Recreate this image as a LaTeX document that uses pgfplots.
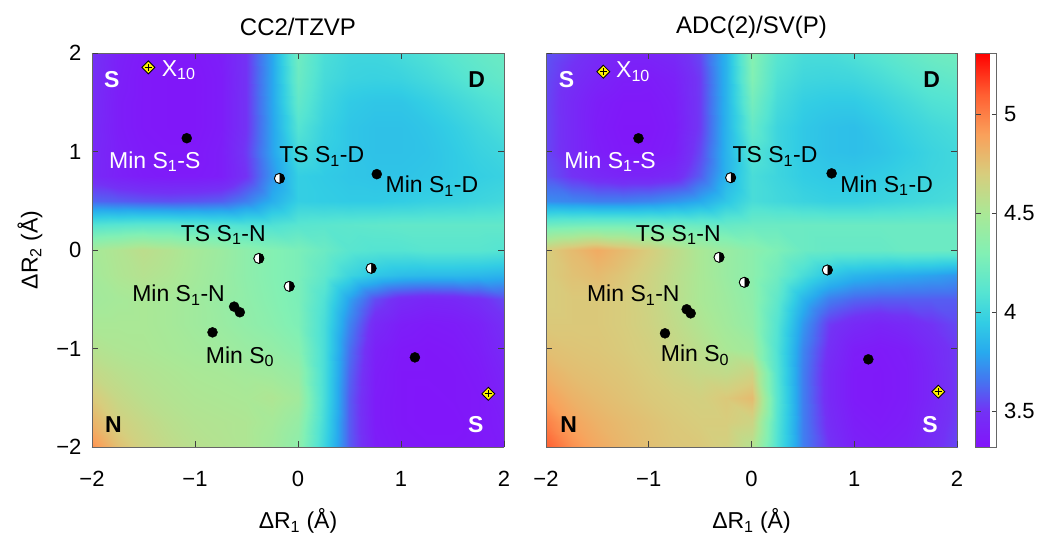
\documentclass[border=0pt]{standalone}
\usepackage{fontspec}
\setmainfont{Liberation Sans}
\usepackage{pgfplots}
\pgfplotsset{compat=1.18}
\usetikzlibrary{plotmarks}
\newcommand\fs{\fontsize{22}{26}\selectfont}
\newcommand\fa{\fontsize{23}{27}\selectfont}
\newcommand\ft{\fontsize{24}{28}\selectfont}
\newcommand\fl{\fontsize{23}{27}\selectfont}
\pgfplotsset{
  colormap={ref}{rgb255(0pt)=(130,20,250) rgb255(18pt)=(115,50,245) rgb255(33pt)=(70,115,240) rgb255(48pt)=(40,170,238) rgb255(63pt)=(50,205,228) rgb255(78pt)=(85,228,210) rgb255(98pt)=(130,240,180) rgb255(118pt)=(170,232,150) rgb255(138pt)=(215,205,125) rgb255(158pt)=(250,160,90) rgb255(178pt)=(255,95,50) rgb255(199pt)=(255,0,0)},
  hm/.style={
    view={0}{90}, scale only axis, width=#1, height=394pt,
    xmin=-2, xmax=2, ymin=-2, ymax=2,
    xtick={-2,-1,0,1,2}, ytick={-2,-1,0,1,2},
    xticklabels={−2,−1,0,1,2},
    colormap name=ref, point meta min=3.32, point meta max=5.31,
    axis on top, tick align=inside, major tick length=6pt,
    axis line style={draw=black!60, line width=0.8pt},
    major tick style={draw=black!75, line width=0.7pt},
    tick label style={font=\fs},
    xticklabel style={yshift=-21pt},
    yticklabel style={xshift=-7pt},
    xlabel={ΔR\textsubscript{1} (Å)},
    every axis x label/.style={at={([yshift=-74pt]axis description cs:0.5,0)}, anchor=center, font=\fa},
    title style={at={([yshift=20pt]axis description cs:0.5,1)}, anchor=center, font=\ft},
    clip=false,
  },
  dots/.style={only marks, mark=*, mark size=5pt, black},
  halfw/.style={only marks, mark=*, mark size=5pt, mark options={fill=white, draw=black, line width=0.8pt}},
  halfb/.style={only marks, mark=halfcircle*, mark size=5pt, mark options={rotate=-90, fill=black, draw=black, line width=0.8pt}},
  dia/.style={only marks, mark=square*, mark size=4.6pt, mark options={rotate=45, fill=yellow, draw=black, line width=0.8pt}},
  cross/.style={only marks, mark=+, mark size=3.6pt, mark options={draw=black, line width=1.1pt}},
}
\begin{document}
\begin{tikzpicture}
\useasboundingbox (-92pt,-95pt) rectangle (947pt,447pt);
% ---------------- left panel ----------------
\begin{axis}[hm=412pt, at={(0pt,0pt)}, anchor=south west,
  title={CC2/TZVP},
  ylabel={ΔR\textsubscript{2} (Å)},
  every axis y label/.style={at={([xshift=-62pt]axis description cs:0,0.5)}, anchor=center, rotate=90, font=\fa},
  yticklabels={−2,−1,0,1,2}]
\addplot3[surf, shader=interp, mesh/cols=17] table[row sep=\\] {
x y z\\
-2 -2 4.95\\ -1.75 -2 4.76\\ -1.5 -2 4.66\\ -1.25 -2 4.6\\ -1 -2 4.56\\ -0.75 -2 4.54\\ -0.5 -2 4.52\\ -0.25 -2 4.46\\ 0 -2 4.36\\ 0.25 -2 4.0\\ 0.5 -2 3.6\\ 0.75 -2 3.38\\ 1 -2 3.35\\ 1.25 -2 3.34\\ 1.5 -2 3.34\\ 1.75 -2 3.35\\ 2 -2 3.37\\
-2 -1.75 4.82\\ -1.75 -1.75 4.68\\ -1.5 -1.75 4.62\\ -1.25 -1.75 4.57\\ -1 -1.75 4.54\\ -0.75 -1.75 4.53\\ -0.5 -1.75 4.52\\ -0.25 -1.75 4.48\\ 0 -1.75 4.4\\ 0.25 -1.75 4.03\\ 0.5 -1.75 3.6\\ 0.75 -1.75 3.37\\ 1 -1.75 3.34\\ 1.25 -1.75 3.33\\ 1.5 -1.75 3.33\\ 1.75 -1.75 3.35\\ 2 -1.75 3.38\\
-2 -1.5 4.72\\ -1.75 -1.5 4.62\\ -1.5 -1.5 4.57\\ -1.25 -1.5 4.54\\ -1 -1.5 4.52\\ -0.75 -1.5 4.51\\ -0.5 -1.5 4.5\\ -0.25 -1.5 4.52\\ 0 -1.5 4.46\\ 0.25 -1.5 4.05\\ 0.5 -1.5 3.6\\ 0.75 -1.5 3.37\\ 1 -1.5 3.34\\ 1.25 -1.5 3.33\\ 1.5 -1.5 3.34\\ 1.75 -1.5 3.35\\ 2 -1.5 3.4\\
-2 -1.25 4.62\\ -1.75 -1.25 4.57\\ -1.5 -1.25 4.54\\ -1.25 -1.25 4.52\\ -1 -1.25 4.5\\ -0.75 -1.25 4.49\\ -0.5 -1.25 4.47\\ -0.25 -1.25 4.45\\ 0 -1.25 4.4\\ 0.25 -1.25 4.05\\ 0.5 -1.25 3.62\\ 0.75 -1.25 3.38\\ 1 -1.25 3.34\\ 1.25 -1.25 3.34\\ 1.5 -1.25 3.34\\ 1.75 -1.25 3.36\\ 2 -1.25 3.42\\
-2 -1 4.55\\ -1.75 -1 4.52\\ -1.5 -1 4.51\\ -1.25 -1 4.49\\ -1 -1 4.47\\ -0.75 -1 4.45\\ -0.5 -1 4.42\\ -0.25 -1 4.39\\ 0 -1 4.33\\ 0.25 -1 4.05\\ 0.5 -1 3.65\\ 0.75 -1 3.4\\ 1 -1 3.35\\ 1.25 -1 3.34\\ 1.5 -1 3.35\\ 1.75 -1 3.38\\ 2 -1 3.45\\
-2 -0.75 4.5\\ -1.75 -0.75 4.5\\ -1.5 -0.75 4.5\\ -1.25 -0.75 4.48\\ -1 -0.75 4.45\\ -0.75 -0.75 4.42\\ -0.5 -0.75 4.38\\ -0.25 -0.75 4.34\\ 0 -0.75 4.28\\ 0.25 -0.75 4.05\\ 0.5 -0.75 3.7\\ 0.75 -0.75 3.45\\ 1 -0.75 3.38\\ 1.25 -0.75 3.36\\ 1.5 -0.75 3.37\\ 1.75 -0.75 3.4\\ 2 -0.75 3.48\\
-2 -0.5 4.46\\ -1.75 -0.5 4.48\\ -1.5 -0.5 4.5\\ -1.25 -0.5 4.48\\ -1 -0.5 4.45\\ -0.75 -0.5 4.41\\ -0.5 -0.5 4.37\\ -0.25 -0.5 4.32\\ 0 -0.5 4.27\\ 0.25 -0.5 4.08\\ 0.5 -0.5 3.78\\ 0.75 -0.5 3.56\\ 1 -0.5 3.46\\ 1.25 -0.5 3.43\\ 1.5 -0.5 3.44\\ 1.75 -0.5 3.48\\ 2 -0.5 3.55\\
-2 -0.25 4.47\\ -1.75 -0.25 4.52\\ -1.5 -0.25 4.55\\ -1.25 -0.25 4.52\\ -1 -0.25 4.47\\ -0.75 -0.25 4.42\\ -0.5 -0.25 4.36\\ -0.25 -0.25 4.31\\ 0 -0.25 4.27\\ 0.25 -0.25 4.15\\ 0.5 -0.25 4.0\\ 0.75 -0.25 3.92\\ 1 -0.25 3.88\\ 1.25 -0.25 3.87\\ 1.5 -0.25 3.87\\ 1.75 -0.25 3.86\\ 2 -0.25 3.84\\
-2 0 4.48\\ -1.75 0 4.53\\ -1.5 0 4.58\\ -1.25 0 4.54\\ -1 0 4.48\\ -0.75 0 4.43\\ -0.5 0 4.36\\ -0.25 0 4.31\\ 0 0 4.27\\ 0.25 0 4.2\\ 0.5 0 4.12\\ 0.75 0 4.1\\ 1 0 4.1\\ 1.25 0 4.12\\ 1.5 0 4.12\\ 1.75 0 4.12\\ 2 0 4.1\\
-2 0.25 4.1\\ -1.75 0.25 4.12\\ -1.5 0.25 4.14\\ -1.25 0.25 4.14\\ -1 0.25 4.12\\ -0.75 0.25 4.1\\ -0.5 0.25 4.08\\ -0.25 0.25 4.08\\ 0 0.25 4.12\\ 0.25 0.25 4.13\\ 0.5 0.25 4.14\\ 0.75 0.25 4.15\\ 1 0.25 4.16\\ 1.25 0.25 4.16\\ 1.5 0.25 4.16\\ 1.75 0.25 4.16\\ 2 0.25 4.16\\
-2 0.5 3.62\\ -1.75 0.5 3.6\\ -1.5 0.5 3.58\\ -1.25 0.5 3.57\\ -1 0.5 3.58\\ -0.75 0.5 3.6\\ -0.5 0.5 3.68\\ -0.25 0.5 3.82\\ 0 0.5 3.96\\ 0.25 0.5 3.95\\ 0.5 0.5 3.94\\ 0.75 0.5 3.94\\ 1 0.5 3.95\\ 1.25 0.5 3.97\\ 1.5 0.5 3.98\\ 1.75 0.5 4.0\\ 2 0.5 4.02\\
-2 0.75 3.45\\ -1.75 0.75 3.4\\ -1.5 0.75 3.37\\ -1.25 0.75 3.36\\ -1 0.75 3.36\\ -0.75 0.75 3.38\\ -0.5 0.75 3.5\\ -0.25 0.75 3.74\\ 0 0.75 3.96\\ 0.25 0.75 3.94\\ 0.5 0.75 3.92\\ 0.75 0.75 3.91\\ 1 0.75 3.91\\ 1.25 0.75 3.92\\ 1.5 0.75 3.94\\ 1.75 0.75 3.96\\ 2 0.75 3.98\\
-2 1 3.45\\ -1.75 1 3.39\\ -1.5 1 3.36\\ -1.25 1 3.35\\ -1 1 3.35\\ -0.75 1 3.38\\ -0.5 1 3.52\\ -0.25 1 3.78\\ 0 1 4.04\\ 0.25 1 3.96\\ 0.5 1 3.92\\ 0.75 1 3.9\\ 1 1 3.9\\ 1.25 1 3.91\\ 1.5 1 3.94\\ 1.75 1 3.98\\ 2 1 4.01\\
-2 1.25 3.46\\ -1.75 1.25 3.38\\ -1.5 1.25 3.35\\ -1.25 1.25 3.34\\ -1 1.25 3.34\\ -0.75 1.25 3.37\\ -0.5 1.25 3.5\\ -0.25 1.25 3.78\\ 0 1.25 4.1\\ 0.25 1.25 3.98\\ 0.5 1.25 3.92\\ 0.75 1.25 3.9\\ 1 1.25 3.9\\ 1.25 1.25 3.92\\ 1.5 1.25 3.96\\ 1.75 1.25 4.01\\ 2 1.25 4.06\\
-2 1.5 3.47\\ -1.75 1.5 3.38\\ -1.5 1.5 3.35\\ -1.25 1.5 3.34\\ -1 1.5 3.34\\ -0.75 1.5 3.37\\ -0.5 1.5 3.5\\ -0.25 1.5 3.79\\ 0 1.5 4.16\\ 0.25 1.5 4.01\\ 0.5 1.5 3.94\\ 0.75 1.5 3.92\\ 1 1.5 3.92\\ 1.25 1.5 3.96\\ 1.5 1.5 4.01\\ 1.75 1.5 4.06\\ 2 1.5 4.1\\
-2 1.75 3.48\\ -1.75 1.75 3.39\\ -1.5 1.75 3.35\\ -1.25 1.75 3.34\\ -1 1.75 3.34\\ -0.75 1.75 3.37\\ -0.5 1.75 3.5\\ -0.25 1.75 3.79\\ 0 1.75 4.2\\ 0.25 1.75 4.04\\ 0.5 1.75 3.99\\ 0.75 1.75 3.98\\ 1 1.75 3.99\\ 1.25 1.75 4.03\\ 1.5 1.75 4.08\\ 1.75 1.75 4.13\\ 2 1.75 4.17\\
-2 2 3.5\\ -1.75 2 3.4\\ -1.5 2 3.36\\ -1.25 2 3.35\\ -1 2 3.35\\ -0.75 2 3.38\\ -0.5 2 3.5\\ -0.25 2 3.79\\ 0 2 4.22\\ 0.25 2 4.06\\ 0.5 2 4.01\\ 0.75 2 4.01\\ 1 2 4.04\\ 1.25 2 4.08\\ 1.5 2 4.13\\ 1.75 2 4.17\\ 2 2 4.2\\
};
\addplot3[dots] coordinates {(-1.08,1.135,6) (0.765,0.77,6) (-0.62,-0.575,6) (-0.565,-0.632,6) (-0.83,-0.836,6) (1.135,-1.09,6)};
\addplot3[halfw] coordinates {(-0.18,0.727,6) (-0.38,-0.085,6) (0.71,-0.186,6) (-0.085,-0.369,6)};
\addplot3[halfb] coordinates {(-0.18,0.727,6) (-0.38,-0.085,6) (0.71,-0.186,6) (-0.085,-0.369,6)};
\addplot3[dia] coordinates {(-1.453,1.854,6) (1.848,-1.46,6)};
\addplot3[cross] coordinates {(-1.453,1.854,6) (1.848,-1.46,6)};
\node[font=\fl, text=white, anchor=west, inner sep=0pt] at (axis cs:-1.324,1.827,6) {X\textsubscript{10}};
\node[font=\fl\bfseries, text=white] at (axis cs:-1.809,1.733,6) {S};
\node[font=\fl\bfseries, text=black] at (axis cs:1.735,1.733,6) {D};
\node[font=\fl\bfseries, text=black] at (axis cs:-1.793,-1.777,6) {N};
\node[font=\fl\bfseries, text=white] at (axis cs:1.725,-1.777,6) {S};
\node[font=\fl, text=white] at (axis cs:-1.39,0.897,6) {Min S\textsubscript{1}-S};
\node[font=\fl] at (axis cs:0.23,0.95,6) {TS S\textsubscript{1}-D};
\node[font=\fl] at (axis cs:1.30,0.65,6) {Min S\textsubscript{1}-D};
\node[font=\fl] at (axis cs:-0.725,0.152,6) {TS S\textsubscript{1}-N};
\node[font=\fl] at (axis cs:-1.16,-0.457,6) {Min S\textsubscript{1}-N};
\node[font=\fl] at (axis cs:-0.563,-1.083,6) {Min S\textsubscript{0}};
\end{axis}
% ---------------- right panel ----------------
\begin{axis}[hm=411pt, at={(454pt,0pt)}, anchor=south west,
  title={ADC(2)/SV(P)},
  yticklabels={},
  colorbar,
  colorbar style={
    at={(parent axis.north east)}, anchor=north west, xshift=10pt,
    width=21pt, height=394pt, scale only axis,
    ytick={3.5,4,4.5,5}, yticklabels={3.5,4,4.5,5},
    yticklabel style={font=\fs, xshift=4pt},
    ytick pos=both, yticklabel pos=right, tick align=inside,
    major tick length=5pt,
    axis line style={draw=black!60, line width=0.8pt},
    major tick style={draw=black!75, line width=0.7pt},
  }]
\addplot3[surf, shader=interp, mesh/cols=17] table[row sep=\\] {
x y z\\
-2 -2 5.1\\ -1.75 -2 4.95\\ -1.5 -2 4.86\\ -1.25 -2 4.8\\ -1 -2 4.76\\ -0.75 -2 4.73\\ -0.5 -2 4.72\\ -0.25 -2 4.68\\ 0 -2 4.55\\ 0.25 -2 4.08\\ 0.5 -2 3.68\\ 0.75 -2 3.5\\ 1 -2 3.4\\ 1.25 -2 3.38\\ 1.5 -2 3.4\\ 1.75 -2 3.47\\ 2 -2 3.55\\
-2 -1.75 5.0\\ -1.75 -1.75 4.88\\ -1.5 -1.75 4.82\\ -1.25 -1.75 4.78\\ -1 -1.75 4.75\\ -0.75 -1.75 4.72\\ -0.5 -1.75 4.7\\ -0.25 -1.75 4.7\\ 0 -1.75 4.65\\ 0.25 -1.75 4.1\\ 0.5 -1.75 3.68\\ 0.75 -1.75 3.47\\ 1 -1.75 3.38\\ 1.25 -1.75 3.36\\ 1.5 -1.75 3.38\\ 1.75 -1.75 3.45\\ 2 -1.75 3.53\\
-2 -1.5 4.9\\ -1.75 -1.5 4.82\\ -1.5 -1.5 4.78\\ -1.25 -1.5 4.75\\ -1 -1.5 4.72\\ -0.75 -1.5 4.7\\ -0.5 -1.5 4.68\\ -0.25 -1.5 4.72\\ 0 -1.5 4.78\\ 0.25 -1.5 4.12\\ 0.5 -1.5 3.68\\ 0.75 -1.5 3.45\\ 1 -1.5 3.36\\ 1.25 -1.5 3.35\\ 1.5 -1.5 3.37\\ 1.75 -1.5 3.43\\ 2 -1.5 3.52\\
-2 -1.25 4.82\\ -1.75 -1.25 4.77\\ -1.5 -1.25 4.75\\ -1.25 -1.25 4.73\\ -1 -1.25 4.7\\ -0.75 -1.25 4.66\\ -0.5 -1.25 4.62\\ -0.25 -1.25 4.6\\ 0 -1.25 4.65\\ 0.25 -1.25 4.1\\ 0.5 -1.25 3.68\\ 0.75 -1.25 3.45\\ 1 -1.25 3.36\\ 1.25 -1.25 3.35\\ 1.5 -1.25 3.37\\ 1.75 -1.25 3.43\\ 2 -1.25 3.52\\
-2 -1 4.76\\ -1.75 -1 4.74\\ -1.5 -1 4.73\\ -1.25 -1 4.71\\ -1 -1 4.68\\ -0.75 -1 4.63\\ -0.5 -1 4.57\\ -0.25 -1 4.5\\ 0 -1 4.45\\ 0.25 -1 4.08\\ 0.5 -1 3.7\\ 0.75 -1 3.48\\ 1 -1 3.38\\ 1.25 -1 3.36\\ 1.5 -1 3.38\\ 1.75 -1 3.45\\ 2 -1 3.52\\
-2 -0.75 4.72\\ -1.75 -0.75 4.72\\ -1.5 -0.75 4.72\\ -1.25 -0.75 4.7\\ -1 -0.75 4.66\\ -0.75 -0.75 4.6\\ -0.5 -0.75 4.53\\ -0.25 -0.75 4.46\\ 0 -0.75 4.38\\ 0.25 -0.75 4.1\\ 0.5 -0.75 3.75\\ 0.75 -0.75 3.52\\ 1 -0.75 3.45\\ 1.25 -0.75 3.42\\ 1.5 -0.75 3.45\\ 1.75 -0.75 3.5\\ 2 -0.75 3.55\\
-2 -0.5 4.7\\ -1.75 -0.5 4.72\\ -1.5 -0.5 4.72\\ -1.25 -0.5 4.7\\ -1 -0.5 4.65\\ -0.75 -0.5 4.58\\ -0.5 -0.5 4.5\\ -0.25 -0.5 4.44\\ 0 -0.5 4.36\\ 0.25 -0.5 4.15\\ 0.5 -0.5 3.85\\ 0.75 -0.5 3.68\\ 1 -0.5 3.62\\ 1.25 -0.5 3.6\\ 1.5 -0.5 3.6\\ 1.75 -0.5 3.6\\ 2 -0.5 3.6\\
-2 -0.25 4.7\\ -1.75 -0.25 4.75\\ -1.5 -0.25 4.78\\ -1.25 -0.25 4.73\\ -1 -0.25 4.66\\ -0.75 -0.25 4.58\\ -0.5 -0.25 4.5\\ -0.25 -0.25 4.42\\ 0 -0.25 4.35\\ 0.25 -0.25 4.22\\ 0.5 -0.25 4.05\\ 0.75 -0.25 3.92\\ 1 -0.25 3.85\\ 1.25 -0.25 3.82\\ 1.5 -0.25 3.8\\ 1.75 -0.25 3.78\\ 2 -0.25 3.75\\
-2 0 4.7\\ -1.75 0 4.78\\ -1.5 0 4.85\\ -1.25 0 4.78\\ -1 0 4.7\\ -0.75 0 4.6\\ -0.5 0 4.5\\ -0.25 0 4.42\\ 0 0 4.35\\ 0.25 0 4.28\\ 0.5 0 4.2\\ 0.75 0 4.18\\ 1 0 4.18\\ 1.25 0 4.18\\ 1.5 0 4.2\\ 1.75 0 4.2\\ 2 0 4.2\\
-2 0.25 4.22\\ -1.75 0.25 4.24\\ -1.5 0.25 4.25\\ -1.25 0.25 4.25\\ -1 0.25 4.24\\ -0.75 0.25 4.22\\ -0.5 0.25 4.2\\ -0.25 0.25 4.18\\ 0 0.25 4.2\\ 0.25 0.25 4.2\\ 0.5 0.25 4.2\\ 0.75 0.25 4.2\\ 1 0.25 4.2\\ 1.25 0.25 4.2\\ 1.5 0.25 4.2\\ 1.75 0.25 4.2\\ 2 0.25 4.2\\
-2 0.5 3.72\\ -1.75 0.5 3.7\\ -1.5 0.5 3.68\\ -1.25 0.5 3.68\\ -1 0.5 3.7\\ -0.75 0.5 3.74\\ -0.5 0.5 3.8\\ -0.25 0.5 3.92\\ 0 0.5 4.05\\ 0.25 0.5 4.02\\ 0.5 0.5 3.99\\ 0.75 0.5 3.97\\ 1 0.5 3.97\\ 1.25 0.5 3.99\\ 1.5 0.5 4.01\\ 1.75 0.5 4.03\\ 2 0.5 4.05\\
-2 0.75 3.58\\ -1.75 0.75 3.5\\ -1.5 0.75 3.45\\ -1.25 0.75 3.42\\ -1 0.75 3.42\\ -0.75 0.75 3.45\\ -0.5 0.75 3.6\\ -0.25 0.75 3.84\\ 0 0.75 4.05\\ 0.25 0.75 4.0\\ 0.5 0.75 3.95\\ 0.75 0.75 3.93\\ 1 0.75 3.93\\ 1.25 0.75 3.95\\ 1.5 0.75 3.98\\ 1.75 0.75 4.0\\ 2 0.75 4.02\\
-2 1 3.55\\ -1.75 1 3.45\\ -1.5 1 3.38\\ -1.25 1 3.35\\ -1 1 3.35\\ -0.75 1 3.38\\ -0.5 1 3.55\\ -0.25 1 3.84\\ 0 1 4.1\\ 0.25 1 4.0\\ 0.5 1 3.93\\ 0.75 1 3.9\\ 1 1 3.89\\ 1.25 1 3.91\\ 1.5 1 3.95\\ 1.75 1 3.99\\ 2 1 4.02\\
-2 1.25 3.55\\ -1.75 1.25 3.45\\ -1.5 1.25 3.37\\ -1.25 1.25 3.34\\ -1 1.25 3.34\\ -0.75 1.25 3.37\\ -0.5 1.25 3.52\\ -0.25 1.25 3.84\\ 0 1.25 4.17\\ 0.25 1.25 4.0\\ 0.5 1.25 3.93\\ 0.75 1.25 3.9\\ 1 1.25 3.89\\ 1.25 1.25 3.93\\ 1.5 1.25 3.98\\ 1.75 1.25 4.02\\ 2 1.25 4.05\\
-2 1.5 3.55\\ -1.75 1.5 3.45\\ -1.5 1.5 3.38\\ -1.25 1.5 3.35\\ -1 1.5 3.35\\ -0.75 1.5 3.38\\ -0.5 1.5 3.52\\ -0.25 1.5 3.84\\ 0 1.5 4.24\\ 0.25 1.5 4.04\\ 0.5 1.5 3.96\\ 0.75 1.5 3.94\\ 1 1.5 3.94\\ 1.25 1.5 3.98\\ 1.5 1.5 4.03\\ 1.75 1.5 4.08\\ 2 1.5 4.1\\
-2 1.75 3.56\\ -1.75 1.75 3.48\\ -1.5 1.75 3.42\\ -1.25 1.75 3.38\\ -1 1.75 3.37\\ -0.75 1.75 3.4\\ -0.5 1.75 3.52\\ -0.25 1.75 3.84\\ 0 1.75 4.3\\ 0.25 1.75 4.08\\ 0.5 1.75 4.01\\ 0.75 1.75 4.0\\ 1 1.75 4.01\\ 1.25 1.75 4.05\\ 1.5 1.75 4.1\\ 1.75 1.75 4.14\\ 2 1.75 4.17\\
-2 2 3.58\\ -1.75 2 3.52\\ -1.5 2 3.46\\ -1.25 2 3.42\\ -1 2 3.42\\ -0.75 2 3.45\\ -0.5 2 3.55\\ -0.25 2 3.84\\ 0 2 4.32\\ 0.25 2 4.12\\ 0.5 2 4.05\\ 0.75 2 4.05\\ 1 2 4.08\\ 1.25 2 4.12\\ 1.5 2 4.17\\ 1.75 2 4.21\\ 2 2 4.23\\
};
\addplot3[dots] coordinates {(-1.10,1.134,6) (0.78,0.778,6) (-0.631,-0.602,6) (-0.592,-0.643,6) (-0.842,-0.846,6) (1.137,-1.11,6)};
\addplot3[halfw] coordinates {(-0.203,0.734,6) (-0.316,-0.074,6) (0.738,-0.203,6) (-0.07,-0.328,6)};
\addplot3[halfb] coordinates {(-0.203,0.734,6) (-0.316,-0.074,6) (0.738,-0.203,6) (-0.07,-0.328,6)};
\addplot3[dia] coordinates {(-1.442,1.81,6) (1.818,-1.438,6)};
\addplot3[cross] coordinates {(-1.442,1.81,6) (1.818,-1.438,6)};
\node[font=\fl, text=white, anchor=west, inner sep=0pt] at (axis cs:-1.319,1.81,6) {X\textsubscript{10}};
\node[font=\fl\bfseries, text=white] at (axis cs:-1.80,1.733,6) {S};
\node[font=\fl\bfseries, text=black] at (axis cs:1.753,1.733,6) {D};
\node[font=\fl\bfseries, text=black] at (axis cs:-1.78,-1.777,6) {N};
\node[font=\fl\bfseries, text=white] at (axis cs:1.737,-1.777,6) {S};
\node[font=\fl, text=white] at (axis cs:-1.377,0.897,6) {Min S\textsubscript{1}-S};
\node[font=\fl] at (axis cs:0.229,0.95,6) {TS S\textsubscript{1}-D};
\node[font=\fl] at (axis cs:1.315,0.653,6) {Min S\textsubscript{1}-D};
\node[font=\fl] at (axis cs:-0.712,0.152,6) {TS S\textsubscript{1}-N};
\node[font=\fl] at (axis cs:-1.15,-0.457,6) {Min S\textsubscript{1}-N};
\node[font=\fl] at (axis cs:-0.55,-1.066,6) {Min S\textsubscript{0}};
\end{axis}
\end{tikzpicture}
\end{document}
